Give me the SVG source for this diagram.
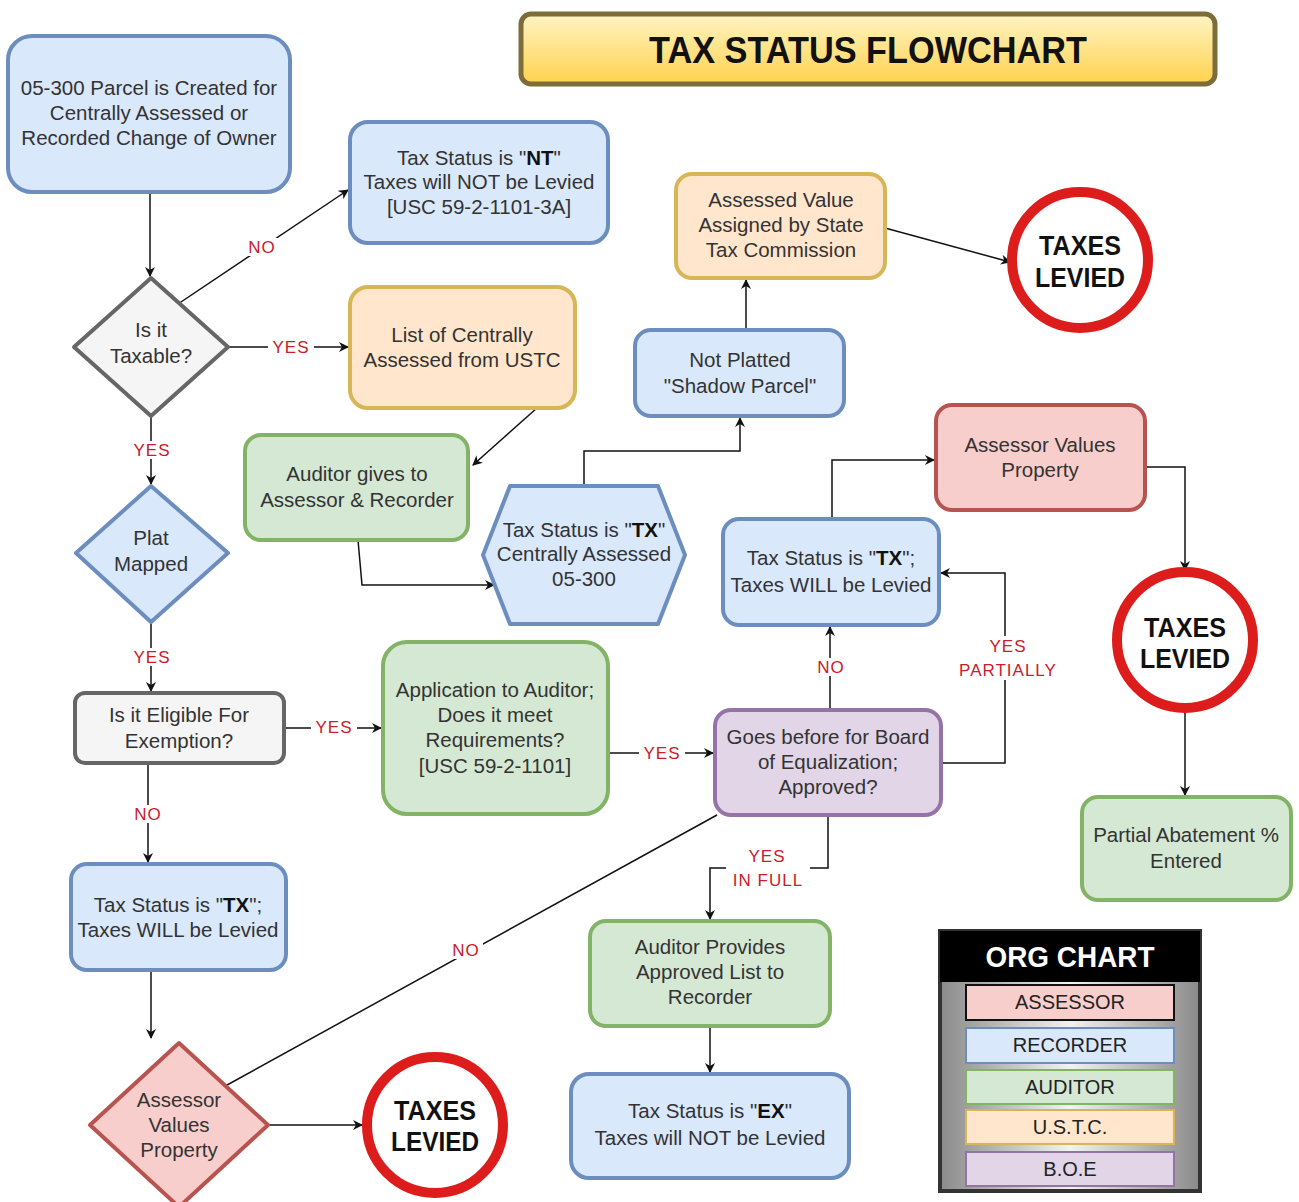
<svg xmlns="http://www.w3.org/2000/svg" width="1299" height="1202" viewBox="0 0 1299 1202">
<defs>
<linearGradient id="gTitle" x1="0" y1="0" x2="0" y2="1"><stop offset="0" stop-color="#fff4c4"/><stop offset="1" stop-color="#ffd24d"/></linearGradient>
<linearGradient id="gOrg" x1="0" y1="0" x2="1" y2="0"><stop offset="0" stop-color="#8a8a8a"/><stop offset="0.5" stop-color="#f2f2f2"/><stop offset="1" stop-color="#8a8a8a"/></linearGradient>
<marker id="arr" viewBox="0 0 10 10" refX="9" refY="5" markerWidth="10" markerHeight="10" markerUnits="userSpaceOnUse" orient="auto"><path d="M0,0 L10,5 L0,10 L3,5 Z" fill="#111"/></marker>
</defs>
<style>
text{font-family:"Liberation Sans",Arial,sans-serif;font-size:20.5px;fill:#333;text-anchor:middle}
.blue{fill:#dae8fc;stroke:#6c8ebf;stroke-width:4}
.green{fill:#d5e8d4;stroke:#82b366;stroke-width:4}
.orange{fill:#ffe6cc;stroke:#d6b656;stroke-width:4}
.red{fill:#f8cecc;stroke:#b85450;stroke-width:4}
.purple{fill:#e1d5e7;stroke:#9673a6;stroke-width:4}
.gray{fill:#f5f5f5;stroke:#666;stroke-width:4}
.ring{fill:#fff;stroke:#dd1c1c;stroke-width:10}
text.big{font-weight:bold;font-size:27px;fill:#111}
text.ttl{font-weight:bold;font-size:37px;fill:#111}
text.org{font-weight:bold;font-size:29px;fill:#fff}
.c{fill:none;stroke:#111;stroke-width:1.5;marker-end:url(#arr)}
text.lbl{font-size:17px;fill:#c8202a;letter-spacing:1px}
.lbg{fill:#fff}
text.leg{font-size:20px;fill:#222}
tspan.b{font-weight:bold;fill:#111}
</style>
<rect width="1299" height="1202" fill="#fff"/>

<g id="title">
<rect x="521" y="14" width="694" height="70" rx="10" fill="url(#gTitle)" stroke="#7d6d3a" stroke-width="5"/>
<text class="ttl" x="868" y="63" textLength="438" lengthAdjust="spacingAndGlyphs">TAX STATUS FLOWCHART</text>
</g>

<g id="connectors">
<path class="c" d="M150,192 L150,276"/>
<path class="c" d="M178,304 L348,190"/>
<path class="c" d="M228,347 L348,347"/>
<path class="c" d="M537,408 L473,465"/>
<path class="c" d="M358,540 L362,585 L494,585"/>
<path class="c" d="M584,486 L584,451 L740,451 L740,418"/>
<path class="c" d="M746,330 L746,280"/>
<path class="c" d="M885,228 L1010,262"/>
<path class="c" d="M151,416 L151,484"/>
<path class="c" d="M151,622 L151,691"/>
<path class="c" d="M284,728 L381,728"/>
<path class="c" d="M608,753 L713,753"/>
<path class="c" d="M830,710 L830,627"/>
<path class="c" d="M941,763 L1005,763 L1005,573 L941,573"/>
<path class="c" d="M832,519 L832,460 L934,460"/>
<path class="c" d="M1145,467 L1185,467 L1185,570"/>
<path class="c" d="M1185,712 L1185,795"/>
<path class="c" d="M828,815 L828,868 L710,868 L710,919"/>
<path class="c" d="M710,1026 L710,1072"/>
<path class="c" d="M717,815 L218,1090"/>
<path class="c" d="M148,763 L148,862"/>
<path class="c" d="M151,970 L151,1038"/>
<path class="c" d="M268,1125 L362,1125"/>
<rect class="lbg" x="245" y="238" width="34" height="18"/><text class="lbl" x="262" y="253">NO</text>
<rect class="lbg" x="268" y="338" width="46" height="18"/><text class="lbl" x="291" y="353">YES</text>
<rect class="lbg" x="129" y="441" width="46" height="18"/><text class="lbl" x="152" y="456">YES</text>
<rect class="lbg" x="129" y="648" width="46" height="18"/><text class="lbl" x="152" y="663">YES</text>
<rect class="lbg" x="311" y="718" width="46" height="18"/><text class="lbl" x="334" y="733">YES</text>
<rect class="lbg" x="639" y="744" width="46" height="18"/><text class="lbl" x="662" y="759">YES</text>
<rect class="lbg" x="814" y="658" width="34" height="18"/><text class="lbl" x="831" y="673">NO</text>
<rect class="lbg" x="952" y="636" width="112" height="44"/><text class="lbl" x="1008" y="652">YES</text><text class="lbl" x="1008" y="676">PARTIALLY</text>
<rect class="lbg" x="726" y="846" width="84" height="44"/><text class="lbl" x="767" y="862">YES</text><text class="lbl" x="768" y="886">IN FULL</text>
<rect class="lbg" x="131" y="805" width="34" height="18"/><text class="lbl" x="148" y="820">NO</text>
<rect class="lbg" x="449" y="941" width="34" height="18"/><text class="lbl" x="466" y="956">NO</text>
</g>

<g id="n-start"><rect class="blue" x="8" y="36" width="282" height="156" rx="24"/>
<text x="149" y="95">05-300 Parcel is Created for</text><text x="149" y="120">Centrally Assessed or</text><text x="149" y="145">Recorded Change of Owner</text></g>

<g id="n-nt"><rect class="blue" x="350" y="122" width="258" height="121" rx="18"/>
<text x="479" y="165">Tax Status is "<tspan class="b">NT</tspan>"</text><text x="479" y="189">Taxes will NOT be Levied</text><text x="479" y="214">[USC 59-2-1101-3A]</text></g>

<g id="n-taxable"><path class="gray" d="M151,278 L228,347 L151,416 L74,347 Z" stroke-linejoin="round"/>
<text x="151" y="337">Is it</text><text x="151" y="363">Taxable?</text></g>

<g id="n-list"><rect class="orange" x="350" y="287" width="225" height="121" rx="18"/>
<text x="462" y="342">List of Centrally</text><text x="462" y="367">Assessed from USTC</text></g>

<g id="n-auditor-gives"><rect class="green" x="245" y="435" width="223" height="105" rx="16"/>
<text x="357" y="481">Auditor gives to</text><text x="357" y="507">Assessor &amp; Recorder</text></g>

<g id="n-hex"><path class="blue" d="M510,486 L658,486 L685,555 L658,624 L510,624 L483,555 Z" stroke-linejoin="round"/>
<text x="584" y="537">Tax Status is "<tspan class="b">TX</tspan>"</text><text x="584" y="561">Centrally Assessed</text><text x="584" y="586">05-300</text></g>

<g id="n-notplatted"><rect class="blue" x="635" y="330" width="209" height="86" rx="16"/>
<text x="740" y="367">Not Platted</text><text x="740" y="393">"Shadow Parcel"</text></g>

<g id="n-assessed"><rect class="orange" x="676" y="174" width="209" height="104" rx="16"/>
<text x="781" y="207">Assessed Value</text><text x="781" y="232">Assigned by State</text><text x="781" y="257">Tax Commission</text></g>

<g id="n-levied1"><circle class="ring" cx="1080" cy="260" r="68"/>
<text class="big" x="1080" y="255" textLength="82" lengthAdjust="spacingAndGlyphs">TAXES</text><text class="big" x="1080" y="287" textLength="90" lengthAdjust="spacingAndGlyphs">LEVIED</text></g>

<g id="n-plat"><path class="blue" d="M151,486 L228,553 L151,622 L76,553 Z" stroke-linejoin="round"/>
<text x="151" y="545">Plat</text><text x="151" y="571">Mapped</text></g>

<g id="n-eligible"><rect class="gray" x="75" y="693" width="209" height="70" rx="10"/>
<text x="179" y="722">Is it Eligible For</text><text x="179" y="748">Exemption?</text></g>

<g id="n-application"><rect class="green" x="383" y="642" width="225" height="172" rx="24"/>
<text x="495" y="697">Application to Auditor;</text><text x="495" y="722">Does it meet</text><text x="495" y="747">Requirements?</text><text x="495" y="773">[USC 59-2-1101]</text></g>

<g id="n-boe"><rect class="purple" x="715" y="710" width="226" height="105" rx="16"/>
<text x="828" y="744">Goes before for Board</text><text x="828" y="769">of Equalization;</text><text x="828" y="794">Approved?</text></g>

<g id="n-tx-mid"><rect class="blue" x="723" y="519" width="216" height="106" rx="16"/>
<text x="831" y="565">Tax Status is "<tspan class="b">TX</tspan>";</text><text x="831" y="592">Taxes WILL be Levied</text></g>

<g id="n-assessor-top"><rect class="red" x="936" y="405" width="209" height="105" rx="16"/>
<text x="1040" y="452">Assessor Values</text><text x="1040" y="477">Property</text></g>

<g id="n-levied2"><circle class="ring" cx="1185" cy="640" r="68"/>
<text class="big" x="1185" y="637" textLength="82" lengthAdjust="spacingAndGlyphs">TAXES</text><text class="big" x="1185" y="668" textLength="90" lengthAdjust="spacingAndGlyphs">LEVIED</text></g>

<g id="n-partial"><rect class="green" x="1082" y="797" width="209" height="103" rx="16"/>
<text x="1186" y="842">Partial Abatement %</text><text x="1186" y="868">Entered</text></g>

<g id="n-tx-left"><rect class="blue" x="71" y="864" width="215" height="106" rx="16"/>
<text x="178" y="912">Tax Status is "<tspan class="b">TX</tspan>";</text><text x="178" y="937">Taxes WILL be Levied</text></g>

<g id="n-assessor-diamond"><path class="red" d="M179,1043 L268,1125 L179,1207 L90,1125 Z" stroke-linejoin="round"/>
<text x="179" y="1107">Assessor</text><text x="179" y="1132">Values</text><text x="179" y="1157">Property</text></g>

<g id="n-levied3"><circle class="ring" cx="435" cy="1125" r="68"/>
<text class="big" x="435" y="1120" textLength="82" lengthAdjust="spacingAndGlyphs">TAXES</text><text class="big" x="435" y="1151" textLength="88" lengthAdjust="spacingAndGlyphs">LEVIED</text></g>

<g id="n-auditor-provides"><rect class="green" x="590" y="921" width="240" height="105" rx="16"/>
<text x="710" y="954">Auditor Provides</text><text x="710" y="979">Approved List to</text><text x="710" y="1004">Recorder</text></g>

<g id="n-ex"><rect class="blue" x="571" y="1074" width="278" height="104" rx="18"/>
<text x="710" y="1118">Tax Status is "<tspan class="b">EX</tspan>"</text><text x="710" y="1145">Taxes will NOT be Levied</text></g>

<g id="legend">
<rect x="940" y="931" width="260" height="260" fill="url(#gOrg)" stroke="#333" stroke-width="4"/>
<rect x="940" y="931" width="260" height="51" fill="#000"/>
<text class="org" x="1070" y="967" textLength="169" lengthAdjust="spacingAndGlyphs">ORG CHART</text>
<rect x="966" y="985" width="208" height="35" fill="#f8cecc" stroke="#111" stroke-width="2"/><text class="leg" x="1070" y="1009">ASSESSOR</text>
<rect x="966" y="1028" width="208" height="35" fill="#dae8fc" stroke="#6c8ebf" stroke-width="2"/><text class="leg" x="1070" y="1052">RECORDER</text>
<rect x="966" y="1070" width="208" height="34" fill="#d5e8d4" stroke="#82b366" stroke-width="2"/><text class="leg" x="1070" y="1094">AUDITOR</text>
<rect x="966" y="1110" width="208" height="34" fill="#ffe6cc" stroke="#d6b656" stroke-width="2"/><text class="leg" x="1070" y="1134">U.S.T.C.</text>
<rect x="966" y="1152" width="208" height="34" fill="#e1d5e7" stroke="#9673a6" stroke-width="2"/><text class="leg" x="1070" y="1176">B.O.E</text>
</g>
</svg>
